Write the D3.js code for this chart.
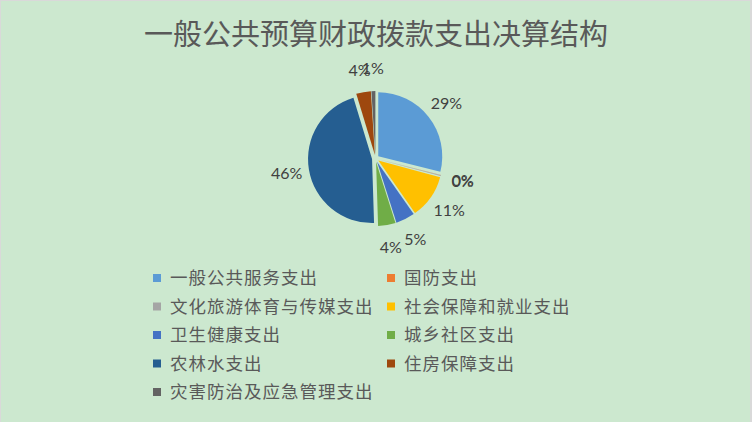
<!DOCTYPE html>
<html>
<head>
<meta charset="utf-8">
<script src="https://cdn.jsdelivr.net/npm/d3@7"></script>
<style>
  html, body { margin: 0; padding: 0; background: #fff; }
  svg { display: block; }
</style>
</head>
<body>
<svg id="chart" width="752" height="422"></svg>
<script>
// Expenditure structure of general public budget appropriations (percent of total)
const title = "一般公共预算财政拨款支出决算结构";
const categories = [
  "一般公共服务支出", "国防支出", "文化旅游体育与传媒支出", "社会保障和就业支出",
  "卫生健康支出", "城乡社区支出", "农林水支出", "住房保障支出", "灾害防治及应急管理支出"
];
const shares = [28.9, 0.1, 0.2, 11.1, 4.8, 4.4, 45.8, 3.7, 1.0];
const colors = ["#5B9BD5", "#ED7D31", "#A5A5A5", "#FFC000", "#4472C4", "#70AD47", "#255E91", "#9E480E", "#636363"];

const W = 752, H = 422;
const svg = d3.select("#chart");

// frame
svg.append("rect").attr("x", 0).attr("y", 0).attr("width", W).attr("height", H).attr("fill", "#D9D9D9");
svg.append("rect").attr("x", 1).attr("y", 1).attr("width", W - 3).attr("height", H - 1).attr("fill", "#CCE8CF");

// title
svg.append("text")
  .attr("x", 376).attr("y", 45)
  .attr("text-anchor", "middle")
  .attr("font-family", "'Noto Sans CJK SC', sans-serif")
  .attr("font-size", 29)
  .attr("fill", "#595959")
  .text(title);

// pie
const cx = 375.5, cy = 158.5, R = 64, explode = 3.5, labelR = 90;
const data = categories.map((c, i) => ({ name: c, value: shares[i], color: colors[i] }));
const pie = d3.pie().value(d => d.value).sort(null);
const arcs = pie(data);
const arc = d3.arc().innerRadius(0).outerRadius(R);
const total = d3.sum(shares);

const g = svg.append("g").attr("transform", `translate(${cx},${cy})`);
g.selectAll("path.slice")
  .data(arcs)
  .join("path")
  .attr("class", "slice")
  .attr("d", arc)
  .attr("fill", d => d.data.color)
  .attr("transform", d => {
    const a = (d.startAngle + d.endAngle) / 2;
    return `translate(${explode * Math.sin(a)},${-explode * Math.cos(a)})`;
  });

g.selectAll("text.pct")
  .data(arcs)
  .join("text")
  .attr("class", "pct")
  .attr("x", d => labelR * Math.sin((d.startAngle + d.endAngle) / 2))
  .attr("y", d => -labelR * Math.cos((d.startAngle + d.endAngle) / 2))
  .attr("dy", "0.35em")
  .attr("text-anchor", "middle")
  .attr("font-family", "Lato, 'Open Sans', sans-serif")
  .attr("font-size", 16)
  .attr("fill", "#404040")
  .text(d => Math.round(d.data.value / total * 100) + "%");

// legend: two columns
const colX = [153, 387], rowY0 = 278, rowStep = 28.5;
const leg = svg.append("g");
data.forEach((d, i) => {
  const x = colX[i % 2], y = rowY0 + Math.floor(i / 2) * rowStep;
  leg.append("rect").attr("x", x).attr("y", y - 4).attr("width", 8).attr("height", 8).attr("fill", d.color);
  leg.append("text")
    .attr("x", x + 17).attr("y", y)
    .attr("dy", "0.36em")
    .attr("font-family", "'Noto Sans CJK SC', sans-serif")
    .attr("font-size", 17.5)
    .attr("letter-spacing", 1)
    .attr("fill", "#595959")
    .text(d.name);
});
</script>
</body>
</html>
